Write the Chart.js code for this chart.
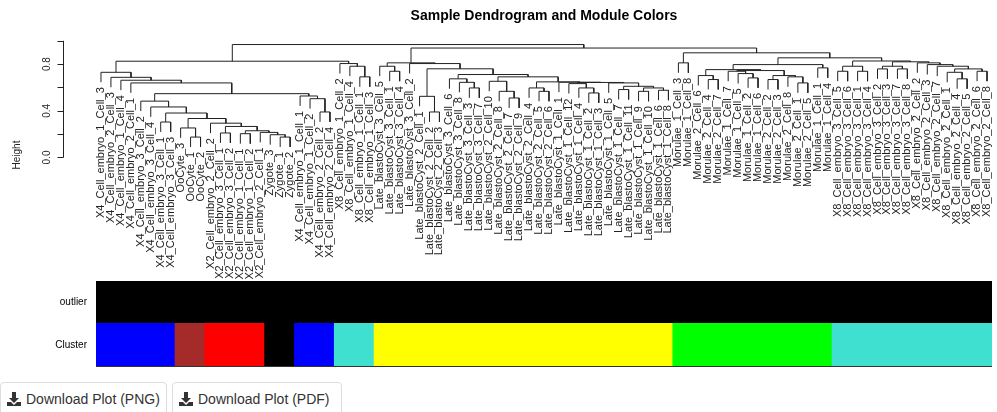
<!DOCTYPE html>
<html>
<head>
<meta charset="utf-8">
<script src="https://cdn.jsdelivr.net/npm/chart.js@4.4.1/dist/chart.umd.min.js"></script>
<style>
  body { margin: 0; background: #fff; font-family: "Liberation Sans", Arial, sans-serif; }
  #wrap { position: relative; width: 997px; height: 412px; overflow: hidden; }
  #dendro { position: absolute; left: 0; top: 0; }
  #bars { position: absolute; left: 0; top: 275px; }
  .btn { position: absolute; top: 382px; height: 34px; box-sizing: border-box; border: 1px solid #ddd;
         border-radius: 4px; background: #fff; color: #333; font-size: 14px; line-height: 32px;
         padding-left: 6px; white-space: nowrap; }
  .btn svg { vertical-align: -2px; margin-right: 5px; }
</style>
</head>
<body>
<div id="wrap">
  <canvas id="dendro" width="997" height="280"></canvas>
  <canvas id="bars" width="997" height="97"></canvas>
  <div class="btn" style="left:0;width:167px;">
    <svg width="14" height="14" viewBox="0 0 14 14"><path d="M5 0h4v6h3l-5 5-5-5h3z M0 10h4l3 3 3-3h4v4H0z" fill="#333"/></svg>Download Plot (PNG)
  </div>
  <div class="btn" style="left:172px;width:170px;">
    <svg width="14" height="14" viewBox="0 0 14 14"><path d="M5 0h4v6h3l-5 5-5-5h3z M0 10h4l3 3 3-3h4v4H0z" fill="#333"/></svg>Download Plot (PDF)
  </div>
</div>
<script>
// leaves in dendrogram order
const leafLabels = [
  'X4_Cell_embryo_1_Cell_3', 'X4_Cell_embryo_2_Cell_3', 'X4_Cell_embryo_1_Cell_4', 'X4_Cell_embryo_2_Cell_1',
  'X4_Cell_embryo_3_Cell_2', 'X4_Cell_embryo_3_Cell_4', 'X4_Cell_embryo_3_Cell_1', 'X4_Cell_embryo_3_Cell_3',
  'OoCyte_3', 'OoCyte_1', 'OoCyte_2',
  'X2_Cell_embryo_2_Cell_2', 'X2_Cell_embryo_3_Cell_1', 'X2_Cell_embryo_3_Cell_2', 'X2_Cell_embryo_1_Cell_1',
  'X2_Cell_embryo_1_Cell_2', 'X2_Cell_embryo_2_Cell_1',
  'Zygote_3', 'Zygote_1', 'Zygote_2',
  'X4_Cell_embryo_1_Cell_1', 'X4_Cell_embryo_1_Cell_2', 'X4_Cell_embryo_2_Cell_2', 'X4_Cell_embryo_2_Cell_4',
  'X8_Cell_embryo_1_Cell_2', 'X8_Cell_embryo_1_Cell_4', 'X8_Cell_embryo_1_Cell_1', 'X8_Cell_embryo_1_Cell_3',
  'Late_blastoCyst_3_Cell_5', 'Late_blastoCyst_3_Cell_1', 'Late_blastoCyst_3_Cell_4', 'Late_blastoCyst_3_Cell_2',
  'Late_blastoCyst_2_Cell_1', 'Late_blastoCyst_2_Cell_2', 'Late_blastoCyst_2_Cell_3', 'Late_blastoCyst_3_Cell_6',
  'Late_blastoCyst_3_Cell_8', 'Late_blastoCyst_3_Cell_3', 'Late_blastoCyst_3_Cell_7', 'Late_blastoCyst_2_Cell_10',
  'Late_blastoCyst_2_Cell_8', 'Late_blastoCyst_2_Cell_7', 'Late_blastoCyst_2_Cell_9', 'Late_blastoCyst_2_Cell_4',
  'Late_blastoCyst_2_Cell_5', 'Late_blastoCyst_2_Cell_6', 'Late_blastoCyst_1_Cell_1', 'Late_blastoCyst_1_Cell_12',
  'Late_blastoCyst_1_Cell_4', 'Late_blastoCyst_1_Cell_2', 'Late_blastoCyst_1_Cell_3', 'Late_blastoCyst_1_Cell_5',
  'Late_blastoCyst_1_Cell_7', 'Late_blastoCyst_1_Cell_11', 'Late_blastoCyst_1_Cell_9', 'Late_blastoCyst_1_Cell_10',
  'Late_blastoCyst_1_Cell_6', 'Late_blastoCyst_1_Cell_8',
  'Morulae_1_Cell_3', 'Morulae_1_Cell_8', 'Morulae_2_Cell_6', 'Morulae_2_Cell_4', 'Morulae_2_Cell_7',
  'Morulae_1_Cell_7', 'Morulae_1_Cell_5', 'Morulae_1_Cell_2', 'Morulae_1_Cell_6', 'Morulae_2_Cell_2',
  'Morulae_2_Cell_3', 'Morulae_2_Cell_8', 'Morulae_2_Cell_1', 'Morulae_2_Cell_5', 'Morulae_1_Cell_1', 'Morulae_1_Cell_4',
  'X8_Cell_embryo_3_Cell_5', 'X8_Cell_embryo_3_Cell_6', 'X8_Cell_embryo_3_Cell_1', 'X8_Cell_embryo_3_Cell_4',
  'X8_Cell_embryo_3_Cell_2', 'X8_Cell_embryo_3_Cell_3', 'X8_Cell_embryo_3_Cell_7', 'X8_Cell_embryo_3_Cell_8',
  'X8_Cell_embryo_2_Cell_2', 'X8_Cell_embryo_2_Cell_3', 'X8_Cell_embryo_2_Cell_7', 'X8_Cell_embryo_2_Cell_1',
  'X8_Cell_embryo_2_Cell_4', 'X8_Cell_embryo_2_Cell_5', 'X8_Cell_embryo_2_Cell_6', 'X8_Cell_embryo_2_Cell_8'
];

// hclust style merges: negative = leaf position, positive = earlier merge row
const merges = [
  [-7, -8], [-10, -11], [-9, 2], [-13, -14], [-15, -16], [-19, -20], [-18, 6], [-17, 7], [5, 8], [4, 9],
  [-12, 10], [3, 11], [1, 12], [-6, 13], [-5, 14], [-23, -24], [-22, 16], [-21, 17], [15, 18], [-4, 19],
  [-3, 20], [-2, 21], [-1, 22], [-27, -28], [-26, 24], [-25, 25], [23, 26],
  [-30, -31], [-29, 28], [-34, -35], [-33, 30], [-38, -39], [-37, 32], [-36, 33], [-42, -43], [-41, 35],
  [-40, 36], [-45, -46], [-44, 38], [-50, -51], [-49, 40], [-48, 41], [-53, -54], [-55, -56], [-57, -58],
  [44, 45], [43, 46], [-52, 47], [42, 48], [-47, 49], [39, 50], [37, 51], [34, 52], [31, 53], [-32, 54], [29, 55],
  [-59, -60], [-62, -63], [-61, 58], [-66, -67], [-65, 60], [-64, 61], [-68, -69], [-71, -72], [-70, 64],
  [63, 65], [62, 66], [59, 67], [-73, -74], [68, 69],
  [-75, -76], [-77, -78], [71, 72], [-79, -80], [-81, -82], [74, 75], [-87, -88], [-86, 77], [-89, -90],
  [78, 79], [-85, 80], [-84, 81], [-83, 82], [76, 83], [73, 84], [70, 85], [57, 86], [56, 87], [27, 88]
];
const mergeHeights = [
  0.304, 0.175, 0.253, 0.210, 0.204, 0.175, 0.195, 0.215, 0.229, 0.266,
  0.294, 0.334, 0.381, 0.433, 0.483, 0.390, 0.504, 0.527, 0.547, 0.639,
  0.662, 0.687, 0.730, 0.691, 0.782, 0.805, 0.825,
  0.739, 0.782, 0.390, 0.524, 0.596, 0.644, 0.674, 0.510, 0.567,
  0.653, 0.567, 0.596, 0.553, 0.596, 0.633, 0.582, 0.567, 0.576,
  0.596, 0.610, 0.639, 0.643, 0.645, 0.648, 0.691, 0.711, 0.760, 0.805, 0.811,
  0.811, 0.668, 0.702, 0.682, 0.719, 0.739, 0.668, 0.639, 0.691,
  0.702, 0.745, 0.753, 0.768, 0.796,
  0.739, 0.739, 0.782, 0.759, 0.759, 0.782, 0.674, 0.730, 0.739,
  0.759, 0.782, 0.796, 0.811, 0.820, 0.827, 0.854, 0.897, 0.938, 0.968
];
const hang = 0.085;

const yTicks = [0, 0.2, 0.4, 0.6, 0.8, 1.0];
const yTickLabels = ['0.0', '', '0.4', '', '0.8', ''];

// module colour rows, as runs along the leaf order
const clusterRuns = [['blue', 8], ['brown', 3], ['red', 6], ['black', 3], ['blue', 4], ['turquoise', 4],
                     ['yellow', 30], ['green', 16], ['turquoise', 16]];
const outlierRuns = [['black', 90]];
const rowLabels = ['Cluster', 'outlier'];

const rColors = { blue: '#0000FF', brown: '#A52A2A', red: '#FF0000', black: '#000000',
                  turquoise: '#40E0D0', yellow: '#FFFF00', green: '#00FF00' };
const FONT = '"Liberation Sans", Arial, sans-serif';

// build the U shapes of the tree
const nodeX = [];
const leafTip = [];
const segments = merges.map(([a, b], i) => {
  const h = mergeHeights[i];
  const side = id => {
    if (id < 0) { leafTip[-id - 1] = h - hang; return { x: -id, y: h - hang }; }
    return { x: nodeX[id - 1], y: mergeHeights[id - 1] };
  };
  const A = side(a), B = side(b);
  nodeX[i] = (A.x + B.x) / 2;
  return [A, { x: A.x, y: h }, { x: B.x, y: h }, B];
});

const dendroDecor = {
  id: 'dendroDecor',
  afterDraw(chart) {
    const { ctx, scales: { x, y } } = chart;
    ctx.save();
    // y axis
    const ax = 63.5;
    ctx.strokeStyle = '#222';
    ctx.lineWidth = 1;
    ctx.beginPath();
    ctx.moveTo(ax, y.getPixelForValue(yTicks[0]));
    ctx.lineTo(ax, y.getPixelForValue(yTicks[yTicks.length - 1]));
    yTicks.forEach(v => {
      const py = Math.round(y.getPixelForValue(v)) + 0.5;
      ctx.moveTo(ax, py);
      ctx.lineTo(ax - 6, py);
    });
    ctx.stroke();

    ctx.fillStyle = '#222';
    ctx.textAlign = 'center';
    ctx.textBaseline = 'middle';
    ctx.font = '10px ' + FONT;
    yTicks.forEach((v, i) => {
      if (!yTickLabels[i]) return;
      ctx.save();
      ctx.translate(47, y.getPixelForValue(v));
      ctx.rotate(-Math.PI / 2);
      ctx.fillText(yTickLabels[i], 0, 0);
      ctx.restore();
    });
    ctx.save();
    ctx.translate(17, 155);
    ctx.rotate(-Math.PI / 2);
    ctx.fillText('Height', 0, 0);
    ctx.restore();

    // leaf labels hanging under each tip
    ctx.font = '11px ' + FONT;
    ctx.textAlign = 'right';
    leafLabels.forEach((lab, i) => {
      ctx.save();
      ctx.translate(x.getPixelForValue(i + 1), y.getPixelForValue(leafTip[i]) + 5);
      ctx.rotate(-Math.PI / 2);
      ctx.fillText(lab, 0, 0);
      ctx.restore();
    });
    ctx.restore();
  }
};

new Chart(document.getElementById('dendro'), {
  type: 'scatter',
  data: {
    datasets: segments.map(seg => ({
      data: seg,
      showLine: true,
      borderColor: '#222',
      borderWidth: 1,
      pointRadius: 0,
      tension: 0
    }))
  },
  options: {
    responsive: false,
    animation: false,
    events: [],
    layout: { padding: { left: 96, right: 5, top: 0, bottom: 0 } },
    scales: {
      x: { type: 'linear', display: false, min: 0.5, max: leafLabels.length + 0.5 },
      y: { type: 'linear', display: false, min: -1.05, max: 1.0 }
    },
    plugins: {
      legend: { display: false },
      tooltip: { enabled: false },
      title: {
        display: true,
        text: 'Sample Dendrogram and Module Colors',
        color: '#000',
        font: { family: FONT, size: 14, weight: 'bold' },
        padding: { top: 8, bottom: 16 }
      }
    }
  },
  plugins: [dendroDecor]
});

// colour bars
const expandRuns = runs => runs.flatMap(([c, n]) => Array(n).fill(rColors[c]));
const clusterColors = expandRuns(clusterRuns);
const outlierColors = expandRuns(outlierRuns);

const barLabels = {
  id: 'barLabels',
  afterDraw(chart) {
    const { ctx, chartArea, scales: { y } } = chart;
    ctx.save();
    ctx.fillStyle = '#000';
    ctx.font = '10px ' + FONT;
    ctx.textAlign = 'right';
    ctx.textBaseline = 'middle';
    rowLabels.forEach((lab, i) => ctx.fillText(lab, 87, y.getPixelForValue(i + 0.5)));
    ctx.strokeStyle = '#333';
    ctx.beginPath();
    ctx.moveTo(chartArea.left, chartArea.bottom - 0.5);
    ctx.lineTo(chartArea.right, chartArea.bottom - 0.5);
    ctx.stroke();
    ctx.restore();
  }
};

new Chart(document.getElementById('bars'), {
  type: 'bar',
  data: {
    labels: leafLabels,
    datasets: [
      { label: rowLabels[0], data: leafLabels.map(() => 1), backgroundColor: clusterColors },
      { label: rowLabels[1], data: leafLabels.map(() => 1), backgroundColor: outlierColors }
    ]
  },
  options: {
    responsive: false,
    animation: false,
    events: [],
    layout: { padding: { left: 96, right: 5, top: 6, bottom: 5 } },
    datasets: { bar: { barPercentage: 1, categoryPercentage: 1, borderWidth: 0, inflateAmount: 1 } },
    scales: {
      x: { display: false, stacked: true },
      y: { display: false, stacked: true, min: 0, max: 2 }
    },
    plugins: { legend: { display: false }, tooltip: { enabled: false } }
  },
  plugins: [barLabels]
});
</script>
</body>
</html>
